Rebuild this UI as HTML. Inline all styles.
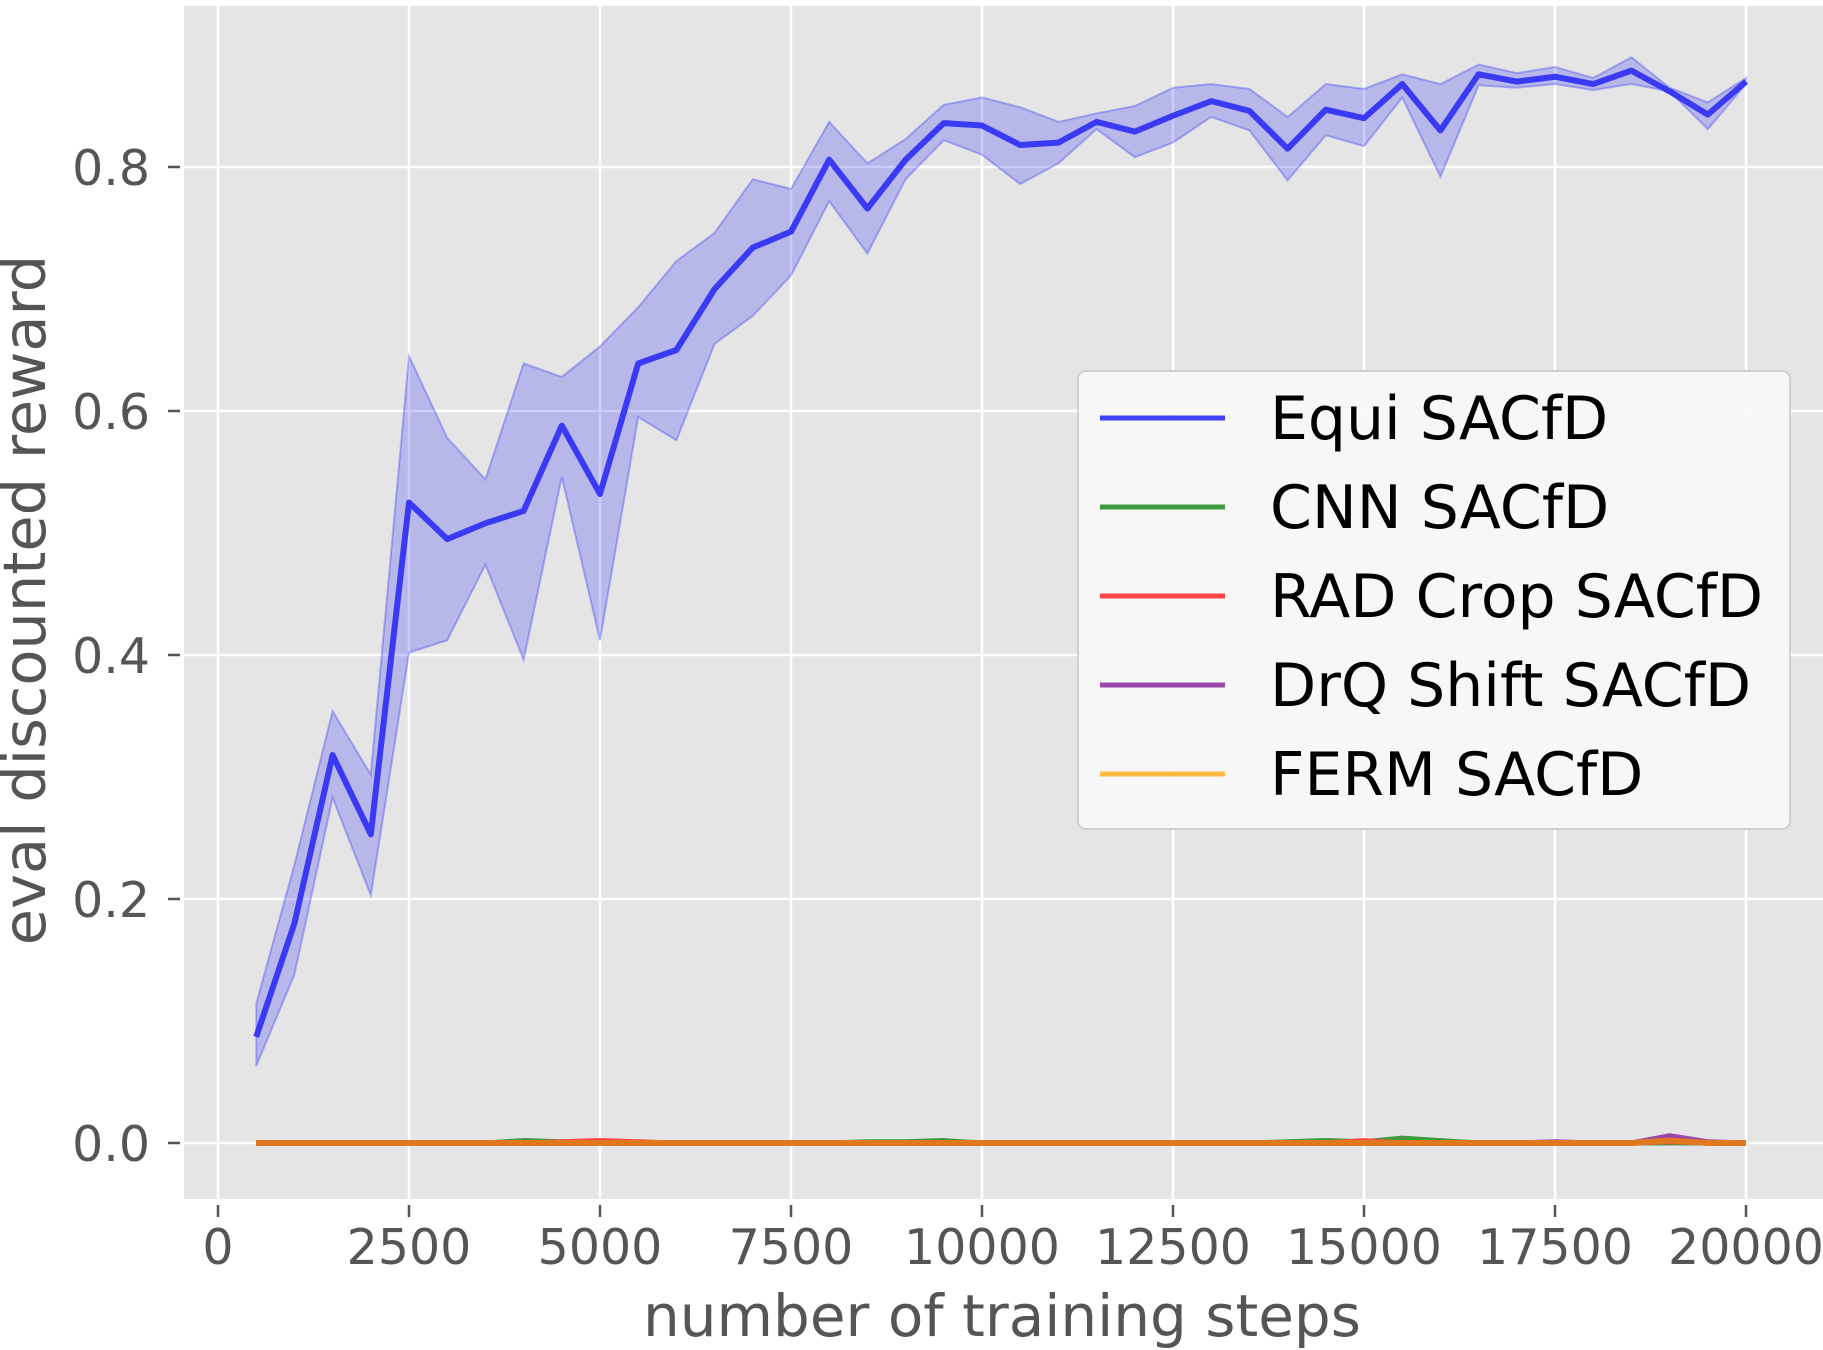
<!DOCTYPE html>
<html><head><meta charset="utf-8"><style>
html,body{margin:0;padding:0;background:#fff}
svg{display:block}
text{font-family:"DejaVu Sans","Liberation Sans",sans-serif}
</style></head><body>
<svg id="chart" width="1823" height="1350" viewBox="0 0 1823 1350" xmlns="http://www.w3.org/2000/svg">
<rect x="184" y="6" width="1639" height="1193" fill="#e5e5e5"/>
<g id="grid"></g>
<g id="bands"></g>
<g id="lines"></g>
<g id="axes"></g>
<text transform="translate(45,600) rotate(-90)" text-anchor="middle" font-size="59" fill="#555">eval discounted reward</text>
<text x="1002" y="1336" text-anchor="middle" font-size="58" fill="#555">number of training steps</text>
<g id="legend"></g>
</svg>
<script>
const steps = [500,1000,1500,2000,2500,3000,3500,4000,4500,5000,5500,6000,6500,7000,7500,8000,8500,9000,9500,10000,10500,11000,11500,12000,12500,13000,13500,14000,14500,15000,15500,16000,16500,17000,17500,18000,18500,19000,19500,20000];
const equiMean = [.087,.18,.318,.253,.525,.495,.508,.518,.588,.532,.639,.65,.70,.734,.747,.806,.766,.806,.836,.834,.818,.82,.837,.829,.842,.854,.846,.815,.847,.84,.868,.83,.876,.87,.874,.868,.879,.862,.843,.87];
const equiUpper = [.114,.228,.354,.302,.645,.578,.544,.639,.628,.653,.685,.723,.746,.79,.782,.837,.803,.823,.851,.857,.849,.837,.844,.85,.865,.868,.864,.841,.868,.864,.876,.868,.884,.877,.882,.873,.89,.865,.853,.873];
const equiLower = [.063,.138,.283,.203,.402,.412,.474,.396,.546,.412,.595,.576,.655,.678,.711,.772,.729,.79,.822,.81,.786,.803,.831,.808,.82,.841,.83,.789,.826,.817,.857,.792,.867,.865,.868,.863,.868,.862,.831,.868];
const cnnMean = [0,0,0,0,0,0,0,.002,.001,0,0,0,0,0,0,0,.001,.001,.002,0,0,0,0,0,0,0,0,.001,.002,.001,.004,.002,0,0,0,0,0,0,0,0];
const radMean = [0,0,0,0,0,0,0,0,.001,.002,.001,0,0,0,0,0,0,0,0,0,0,0,0,0,0,0,0,0,0,.002,0,0,0,0,0,0,0,.001,0,0];
const drqMean = [0,0,0,0,0,0,0,0,0,0,0,0,0,0,0,0,0,0,0,0,0,0,0,0,0,0,0,0,0,0,0,0,0,0,.001,0,0,.006,.001,0];
const fermMean = [0,0,0,0,0,0,0,0,0,0,0,0,0,0,0,0,0,0,0,0,0,0,0,0,0,0,0,0,0,0,0,0,0,0,0,0,0,.002,0,0];
const xTicks = [0,2500,5000,7500,10000,12500,15000,17500,20000];
const yTicks = [0.0,0.2,0.4,0.6,0.8];
const legendLabels = ["Equi SACfD","CNN SACfD","RAD Crop SACfD","DrQ Shift SACfD","FERM SACfD"];
const legendColors = ["#4040ff","#3f9a3f","#ff4545","#9a48a8","#ffba45"];

const NS="http://www.w3.org/2000/svg";
const X = v => 218 + v*(1528/20000);
const Y = v => 1143 - v*1220;
function mk(tag, parent, attrs){const e=document.createElementNS(NS,tag);for(const k in attrs)e.setAttribute(k,attrs[k]);parent.appendChild(e);return e;}
const grid=document.getElementById('grid'), axes=document.getElementById('axes');
xTicks.forEach(t=>{
  const g=mk('line',grid,{x1:X(t),x2:X(t),y1:6,y2:1199,stroke:'#fff','stroke-width':2.5});
  
  
  const tk=mk('line',axes,{x1:X(t),x2:X(t),y1:1205,y2:1217,stroke:'#555','stroke-width':2.5});
  
  
  const tx=mk('text',axes,{x:X(t),y:1264,'text-anchor':'middle','font-size':49,fill:'#555'});
  tx.textContent=t;
  
  
});
yTicks.forEach(t=>{
  const g=mk('line',grid,{x1:184,x2:1823,y1:Y(t),y2:Y(t),stroke:'#fff','stroke-width':2.5});
  
  
  const tk=mk('line',axes,{x1:168,x2:180,y1:Y(t),y2:Y(t),stroke:'#555','stroke-width':2.5});
  
  
  const tx=mk('text',axes,{x:150,y:Y(t)+18,'text-anchor':'end','font-size':49,fill:'#555'});
  tx.textContent=t.toFixed(1);
  
  
});
const bands=document.getElementById('bands'), lines=document.getElementById('lines');
let bp='M'+steps.map((s,i)=>X(s)+','+Y(equiUpper[i])).join('L');
for(let i=steps.length-1;i>=0;i--) bp+='L'+X(steps[i])+','+Y(equiLower[i]);
const band=mk('path',bands,{d:bp+'Z',fill:'rgba(0,0,255,0.2)',stroke:'rgba(0,0,255,0.25)','stroke-width':2});


const series=[[cnnMean,'#3f9a3f','cnn-sacfd-line',5],[radMean,'#ff4545','rad-crop-sacfd-line',5],[drqMean,'#9a48a8','drq-shift-sacfd-line',5],[fermMean,'#e07820','ferm-sacfd-line',6],[equiMean,'#3a3af5','equi-sacfd-line',6]];
series.forEach(([vals,col,name,w])=>{
  const p=mk('path',lines,{d:'M'+steps.map((s,i)=>X(s)+','+Y(vals[i])).join('L'),fill:'none',stroke:col,'stroke-width':w,'stroke-linejoin':'round'});
  
  
});
const lg=document.getElementById('legend');
const box=mk('rect',lg,{x:1078,y:371,width:712,height:458,rx:8,fill:'#f8f8f8','fill-opacity':0.95,stroke:'#d0d0d0','stroke-width':2});


legendLabels.forEach((lab,i)=>{
  const yy=418+i*89;
  const l=mk('line',lg,{x1:1100,x2:1225,y1:yy,y2:yy,stroke:legendColors[i],'stroke-width':5});
  
  
  const t=mk('text',lg,{x:1270,y:yy+21,'font-size':60,fill:'#000'});
  t.textContent=lab;
  
  
});
</script>
</body></html>
